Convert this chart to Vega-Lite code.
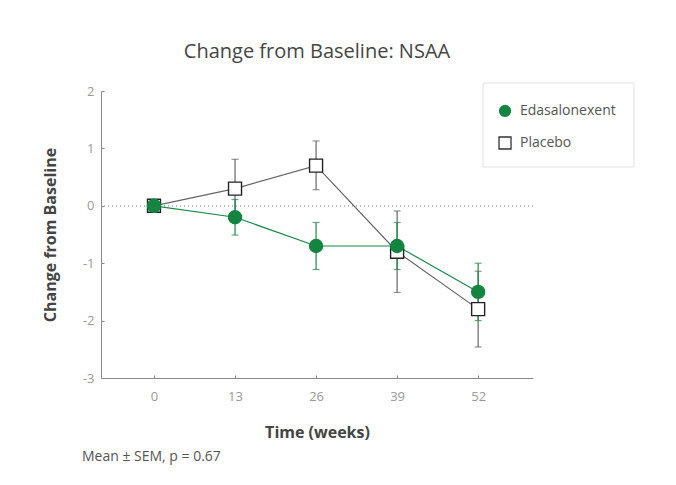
{
  "$schema": "https://vega.github.io/schema/vega-lite/v6.json",
  "width": 432,
  "height": 287,
  "autosize": "none",
  "padding": {"left": 101, "top": 91, "right": 143, "bottom": 107},
  "background": "white",
  "title": {
    "text": "Change from Baseline: NSAA",
    "font": "Open Sans",
    "fontSize": 20,
    "fontWeight": "normal",
    "color": "#454545",
    "offset": 21,
    "anchor": "middle"
  },
  "data": {
    "values": [
      {"group": "Placebo", "week": 0, "mean": 0, "lo": null, "hi": null},
      {"group": "Placebo", "week": 13, "mean": 0.3, "lo": -0.21, "hi": 0.81},
      {"group": "Placebo", "week": 26, "mean": 0.7, "lo": 0.28, "hi": 1.13},
      {"group": "Placebo", "week": 39, "mean": -0.8, "lo": -1.51, "hi": -0.09},
      {"group": "Placebo", "week": 52, "mean": -1.8, "lo": -2.46, "hi": -1.14},
      {"group": "Edasalonexent", "week": 0, "mean": 0, "lo": null, "hi": null},
      {"group": "Edasalonexent", "week": 13, "mean": -0.2, "lo": -0.51, "hi": 0.11},
      {"group": "Edasalonexent", "week": 26, "mean": -0.7, "lo": -1.11, "hi": -0.29},
      {"group": "Edasalonexent", "week": 39, "mean": -0.7, "lo": -1.11, "hi": -0.29},
      {"group": "Edasalonexent", "week": 52, "mean": -1.5, "lo": -2.0, "hi": -1.0}
    ]
  },
  "layer": [
    {
      "mark": {"type": "rule", "strokeDash": [1, 3], "color": "#bbbbbb", "strokeWidth": 1},
      "encoding": {"y": {"datum": 0, "type": "quantitative", "scale": {"domain": [-3, 2], "nice": false}}}
    },
    {
      "mark": {"type": "line", "strokeWidth": 1.2},
      "encoding": {
        "x": {
          "field": "week",
          "type": "quantitative",
          "title": "Time (weeks)",
          "scale": {"domain": [-8.5, 60.8], "nice": false, "zero": false},
          "axis": {
            "values": [0, 13, 26, 39, 52],
            "grid": false,
            "domainColor": "#8a8a8a",
            "tickColor": "#8a8a8a",
            "tickSize": -3,
            "labelPadding": 15,
            "labelFont": "Open Sans",
            "labelFontSize": 13,
            "labelColor": "#9a9a9a",
            "titleFont": "Open Sans",
            "titleFontSize": 16,
            "titleFontWeight": "bold",
            "titleColor": "#444",
            "titlePadding": 21
          }
        },
        "y": {
          "field": "mean",
          "type": "quantitative",
          "title": "Change from Baseline",
          "scale": {"domain": [-3, 2], "nice": false},
          "axis": {
            "values": [-3, -2, -1, 0, 1, 2],
            "labelExpr": "'' + datum.value",
            "grid": false,
            "domainColor": "#8a8a8a",
            "tickColor": "#8a8a8a",
            "tickSize": -3,
            "labelPadding": 10,
            "labelFont": "Open Sans",
            "labelFontSize": 13,
            "labelColor": "#9a9a9a",
            "titleFont": "Open Sans",
            "titleFontSize": 16,
            "titleFontWeight": "bold",
            "titleColor": "#444",
            "titlePadding": 24
          }
        },
        "detail": {"field": "group"},
        "color": {
          "field": "group",
          "type": "nominal",
          "scale": {"domain": ["Edasalonexent", "Placebo"], "range": ["#1b8a47", "#666666"]},
          "legend": null
        },
        "order": {"field": "week"}
      }
    },
    {
      "mark": {"type": "errorbar", "ticks": {"size": 7}, "thickness": 1.2},
      "encoding": {
        "x": {"field": "week", "type": "quantitative", "title": "Time (weeks)"},
        "y": {"field": "lo", "type": "quantitative", "title": "Change from Baseline"},
        "y2": {"field": "hi"},
        "color": {"field": "group", "type": "nominal", "legend": null}
      }
    },
    {
      "mark": {"type": "point", "size": 169, "strokeWidth": 1.4, "opacity": 1},
      "encoding": {
        "x": {"field": "week", "type": "quantitative", "title": "Time (weeks)"},
        "y": {"field": "mean", "type": "quantitative", "title": "Change from Baseline"},
        "shape": {
          "field": "group",
          "type": "nominal",
          "scale": {"domain": ["Edasalonexent", "Placebo"], "range": ["circle", "square"]},
          "legend": null
        },
        "fill": {
          "field": "group",
          "type": "nominal",
          "scale": {"domain": ["Edasalonexent", "Placebo"], "range": ["#138540", "#ffffff"]},
          "legend": null
        },
        "stroke": {
          "field": "group",
          "type": "nominal",
          "scale": {"domain": ["Edasalonexent", "Placebo"], "range": ["#138540", "#222222"]},
          "legend": null
        }
      }
    },
    {
      "data": {"values": [{"item": "legend box"}]},
      "mark": {"type": "rect", "fill": "#ffffff", "stroke": "#e2e2e2", "strokeWidth": 1},
      "encoding": {
        "x": {"datum": 52.78, "type": "quantitative"},
        "x2": {"datum": 77.0},
        "y": {"datum": 2.139, "type": "quantitative"},
        "y2": {"datum": 0.676}
      }
    },
    {
      "data": {"values": [{"label": "Edasalonexent"}]},
      "layer": [
        {
          "mark": {"type": "point", "shape": "circle", "filled": true, "color": "#138540", "size": 150, "opacity": 1},
          "encoding": {
            "x": {"datum": 56.31, "type": "quantitative"},
            "y": {"datum": 1.652, "type": "quantitative"}
          }
        },
        {
          "mark": {"type": "text", "align": "left", "baseline": "middle", "font": "Open Sans", "fontSize": 14, "color": "#555555"},
          "encoding": {
            "text": {"field": "label"},
            "x": {"datum": 58.71, "type": "quantitative"},
            "y": {"datum": 1.652, "type": "quantitative"}
          }
        }
      ]
    },
    {
      "data": {"values": [{"label": "Placebo"}]},
      "layer": [
        {
          "mark": {"type": "point", "shape": "square", "filled": true, "fill": "#ffffff", "stroke": "#333333", "strokeWidth": 1.3, "size": 144, "opacity": 1},
          "encoding": {
            "x": {"datum": 56.31, "type": "quantitative"},
            "y": {"datum": 1.094, "type": "quantitative"}
          }
        },
        {
          "mark": {"type": "text", "align": "left", "baseline": "middle", "font": "Open Sans", "fontSize": 14, "color": "#555555"},
          "encoding": {
            "text": {"field": "label"},
            "x": {"datum": 58.71, "type": "quantitative"},
            "y": {"datum": 1.094, "type": "quantitative"}
          }
        }
      ]
    },
    {
      "data": {"values": [{"note": "Mean ± SEM, p = 0.67"}]},
      "mark": {"type": "text", "align": "left", "baseline": "middle", "font": "Open Sans", "fontSize": 14, "color": "#555555"},
      "encoding": {
        "text": {"field": "note"},
        "x": {"datum": -11.56, "type": "quantitative"},
        "y": {"datum": -4.37, "type": "quantitative"}
      }
    }
  ],
  "config": {
    "view": {"stroke": null}
  }
}
